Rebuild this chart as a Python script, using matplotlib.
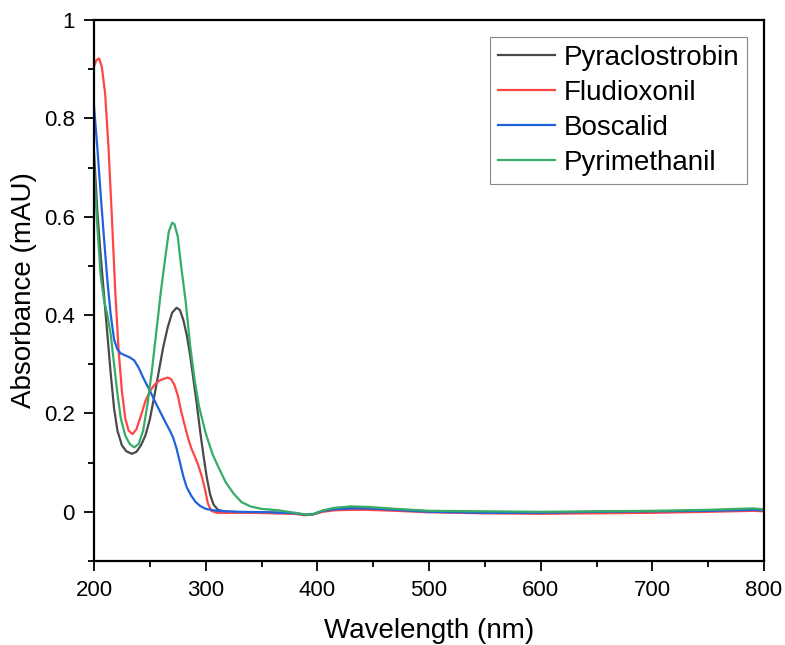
import matplotlib
matplotlib.use("Agg")
import matplotlib.pyplot as plt
from matplotlib.ticker import MultipleLocator, FuncFormatter

plt.rcParams['font.family'] = ['Liberation Sans', 'DejaVu Sans']

series_names = ["Pyraclostrobin", "Fludioxonil", "Boscalid", "Pyrimethanil"]
series_colors = ["#4a4a4a", "#ff4545", "#1f63dc", "#35ad67"]

wl_pyraclostrobin = [200, 203, 206, 209, 212, 215, 218, 221, 225, 229, 234, 238, 242, 246, 250, 254, 258,
                     262, 266, 270, 274, 277, 280, 283, 286, 289, 292, 295, 298, 301, 304, 307, 311, 318,
                     340, 360, 380, 390, 396, 405, 415, 430, 445, 470, 500, 550, 600, 650, 700, 750, 790, 800]
abs_pyraclostrobin = [0.73, 0.61, 0.52, 0.44, 0.36, 0.28, 0.21, 0.165, 0.135, 0.123, 0.118, 0.122, 0.135,
                      0.155, 0.188, 0.235, 0.285, 0.335, 0.375, 0.405, 0.415, 0.41, 0.39, 0.36, 0.32, 0.27,
                      0.22, 0.165, 0.115, 0.07, 0.035, 0.015, 0.004, 0.0, -0.001, -0.002, -0.003, -0.006,
                      -0.005, 0.002, 0.006, 0.008, 0.008, 0.005, 0.001, -0.001, -0.001, 0.0, 0.001, 0.002,
                      0.004, 0.003]

wl_fludioxonil = [200, 202, 204.5, 207, 210, 213, 216, 219, 222, 225, 228, 231, 234.5, 238, 242, 246, 250,
                  254, 258, 262, 266, 269, 272, 275, 278, 281, 284, 287, 290, 293, 296, 299, 302, 305, 310,
                  320, 340, 360, 380, 388, 395, 405, 415, 430, 445, 470, 500, 550, 600, 650, 700, 750, 790, 800]
abs_fludioxonil = [0.906, 0.918, 0.922, 0.905, 0.85, 0.74, 0.60, 0.45, 0.33, 0.245, 0.19, 0.165, 0.158,
                   0.168, 0.195, 0.225, 0.245, 0.258, 0.266, 0.27, 0.273, 0.27, 0.258, 0.237, 0.205, 0.178,
                   0.152, 0.13, 0.114, 0.097, 0.076, 0.05, 0.017, 0.002, -0.002, -0.002, -0.002, -0.003,
                   -0.004, -0.007, -0.006, 0.0, 0.003, 0.004, 0.004, 0.002, -0.001, -0.003, -0.004, -0.003,
                   -0.002, 0.0, 0.002, 0.001]

wl_boscalid = [200, 203, 206, 209, 212, 215, 218, 221, 224, 228, 232, 236, 240, 244, 248, 252, 256, 260,
               264, 268, 271, 274, 277, 280, 283, 287, 291, 295, 300, 310, 330, 360, 380, 390, 396, 405,
               415, 430, 445, 470, 500, 550, 600, 650, 700, 750, 790, 800]
abs_boscalid = [0.825, 0.74, 0.645, 0.555, 0.47, 0.40, 0.35, 0.33, 0.322, 0.318, 0.314, 0.308, 0.293,
                0.273, 0.255, 0.237, 0.218, 0.2, 0.182, 0.165, 0.15, 0.128, 0.1, 0.072, 0.05, 0.033, 0.02,
                0.012, 0.006, 0.002, 0.0, -0.001, -0.003, -0.006, -0.005, 0.002, 0.005, 0.007, 0.007,
                0.004, 0.0, -0.002, -0.002, 0.0, 0.001, 0.002, 0.004, 0.003]

wl_pyrimethanil = [200, 203, 206, 209, 212, 215, 218, 221, 224, 228, 232, 236, 240, 244, 248, 252, 256,
                   260, 264, 267, 270, 272, 275, 278, 282, 286, 290, 294, 300, 306, 312, 318, 325, 332,
                   340, 350, 365, 380, 390, 396, 405, 415, 430, 445, 470, 500, 550, 600, 650, 700, 750,
                   790, 800]
abs_pyrimethanil = [0.70, 0.58, 0.48, 0.43, 0.40, 0.36, 0.30, 0.24, 0.19, 0.155, 0.138, 0.131, 0.138,
                    0.165, 0.22, 0.29, 0.37, 0.45, 0.52, 0.57, 0.588, 0.585, 0.56, 0.50, 0.43, 0.34, 0.27,
                    0.215, 0.16, 0.118, 0.088, 0.06, 0.037, 0.02, 0.011, 0.006, 0.003, -0.002, -0.006,
                    -0.005, 0.003, 0.008, 0.011, 0.010, 0.006, 0.002, 0.001, 0.0, 0.001, 0.002, 0.004,
                    0.007, 0.005]

wavelengths = [wl_pyraclostrobin, wl_fludioxonil, wl_boscalid, wl_pyrimethanil]
absorbances = [abs_pyraclostrobin, abs_fludioxonil, abs_boscalid, abs_pyrimethanil]

fig = plt.figure(figsize=(7.85, 6.45), dpi=100)
ax = fig.add_axes([94 / 785, 1 - 561 / 645, (764 - 94) / 785, (561 - 20) / 645])

for wl, ab, name, col in zip(wavelengths, absorbances, series_names, series_colors):
    ax.plot(wl, ab, color=col, lw=1.6, label=name)

ax.set_xlim(200, 800)
ax.set_ylim(-0.1, 1.0)
ax.xaxis.set_major_locator(MultipleLocator(100))
ax.xaxis.set_minor_locator(MultipleLocator(50))
ax.yaxis.set_major_locator(MultipleLocator(0.2))
ax.yaxis.set_minor_locator(MultipleLocator(0.1))
ax.yaxis.set_major_formatter(FuncFormatter(lambda v, p: "%g" % round(v, 3)))

for s in ax.spines.values():
    s.set_linewidth(1.6)
ax.tick_params(which='major', direction='out', length=7.2, width=1.3, pad=6.5, labelsize=16,
               top=False, right=False)
ax.tick_params(which='minor', direction='out', length=4.3, width=1.3, top=False, right=False)

ax.set_xlabel("Wavelength (nm)", fontsize=20, labelpad=12)
ax.set_ylabel("Absorbance (mAU)", fontsize=20, labelpad=5)

leg = ax.legend(loc='upper right', fontsize=20, frameon=True, fancybox=False, edgecolor='#888888',
                framealpha=1, handlelength=2.05, handletextpad=0.3, labelspacing=0.32,
                borderpad=0.3, borderaxespad=0.6)
leg.get_frame().set_linewidth(0.8)

fig.savefig("out.png", dpi=100)
